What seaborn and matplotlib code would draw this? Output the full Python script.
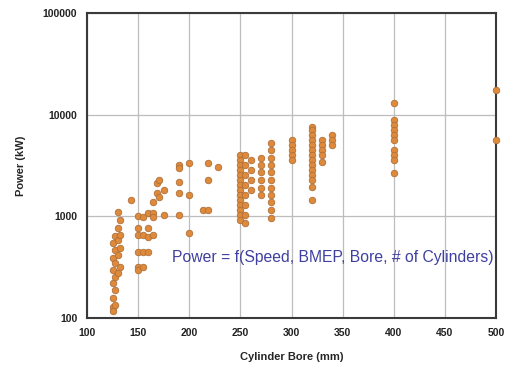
import matplotlib
matplotlib.use("Agg")
import matplotlib.pyplot as plt
import matplotlib.ticker as mticker
import seaborn as sns
import pandas as pd

# ---- data ----
bore_groups = [125, 127, 130, 132, 143, 150, 155, 160, 165, 168, 170, 175, 190,
               200, 213, 218, 228, 250, 255, 260, 270, 280, 300, 320, 330, 340,
               400, 500]
power_groups = [
    [546, 389, 297, 221, 157, 128, 117],
    [640, 466, 347, 253, 189, 134],
    [1100, 767, 585, 416, 277],
    [920, 654, 488, 317],
    [1450],
    [1000, 767, 654, 446, 317, 297],
    [985, 654, 446, 317],
    [1070, 767, 625, 446],
    [1380, 1070, 985, 654],
    [2130, 1690],
    [2270, 1550],
    [1820, 1030],
    [3190, 2980, 2170, 1690, 1030],
    [3340, 1620, 685],
    [1150],
    [3340, 2270, 1150],
    [3050],
    [4010, 3580, 3190, 2850, 2540, 2270, 2030, 1810, 1620, 1450, 1290, 1150, 1030, 920],
    [4010, 3190, 2540, 2030, 1620, 1290, 1030, 860],
    [3580, 2850, 2270, 1810],
    [3740, 3190, 2720, 2270, 1900, 1620],
    [5270, 4490, 3740, 3190, 2720, 2270, 1900, 1620, 1380, 1150, 965],
    [5630, 5040, 4490, 4010, 3580],
    [7550, 7060, 6300, 5630, 5040, 4490, 4010, 3580, 3190, 2850, 2540, 2270, 1940, 1450],
    [5630, 5040, 4490, 4010, 3420],
    [6300, 5630, 5040],
    [13000, 8850, 7900, 7060, 6300, 5630, 4490, 4010, 3580, 2670],
    [17460, 5630],
]
x_ticks = [100, 150, 200, 250, 300, 350, 400, 450, 500]
y_ticks = [100, 1000, 10000, 100000]
annotation = "Power = f(Speed, BMEP, Bore, # of Cylinders)"

bores, powers = [], []
for b, ps in zip(bore_groups, power_groups):
    for p in ps:
        bores.append(b)
        powers.append(p)
df = pd.DataFrame({"Bore": bores, "Power": powers})

sns.set_style("white")
plt.rcParams["font.family"] = ["Liberation Sans", "DejaVu Sans"]

fig = plt.figure(figsize=(5.14, 3.75), dpi=100)
ax = fig.add_axes([87/514, 57/375, 409/514, 305/375])

ax.set_yscale("log")
ax.set_xlim(100, 500)
ax.set_ylim(100, 100000)
ax.set_xticks(x_ticks)
ax.set_yticks(y_ticks)
ax.yaxis.set_major_formatter(mticker.FuncFormatter(lambda v, p: f"{int(round(v))}"))
ax.yaxis.set_minor_locator(mticker.NullLocator())
ax.grid(True, color="#bdbdbd", linewidth=0.9)
ax.set_axisbelow(True)

sns.scatterplot(data=df, x="Bore", y="Power", ax=ax, s=22,
                color="#DE8A3A", edgecolor="#B0703A", linewidth=0.6,
                clip_on=False, zorder=3)

for s in ax.spines.values():
    s.set_color("#3a3a3a")
    s.set_linewidth(1.5)

ax.tick_params(axis="both", which="major", direction="out", length=3,
               width=1, color="#3a3a3a", labelsize=7.5, pad=4)
for lab in ax.get_xticklabels() + ax.get_yticklabels():
    lab.set_fontweight("bold")
    lab.set_color("#222222")

ax.set_xlabel("Cylinder Bore (mm)", fontsize=8, fontweight="bold", labelpad=10)
ax.set_ylabel("Power (kW)", fontsize=8, fontweight="bold", labelpad=12)

ax.text(183, 390, annotation, fontsize=11.3, color="#3F3FA0",
        ha="left", va="center", zorder=4)

fig.savefig("out.png", dpi=100)
